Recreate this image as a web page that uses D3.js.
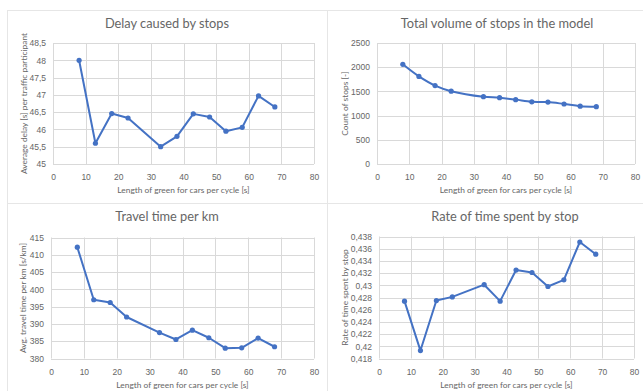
<!DOCTYPE html>
<html>
<head>
<meta charset="utf-8">
<script src="https://cdn.jsdelivr.net/npm/d3@7"></script>
<style>
  body { margin: 0; background: #fff; }
  svg { display: block; font-family: Lato, "Open Sans", sans-serif; }
  .tick text { fill: #666; font-size: 8.5px; }
  .grid line { stroke: #d9d9d9; stroke-width: 1; }
</style>
</head>
<body>
<svg width="643" height="391"></svg>
<script>
// green length per cycle [s], shared by all four charts
var greenLength = [8, 13, 18, 23, 33, 38, 43, 48, 53, 58, 63, 68];
var xTicks = [0, 10, 20, 30, 40, 50, 60, 70, 80];

var delayValues = [48.0, 45.6, 46.46, 46.33, 45.5, 45.8, 46.45, 46.36, 45.95, 46.06, 46.97, 46.65];
var delayTicks = [45, 45.5, 46, 46.5, 47, 47.5, 48, 48.5];

var stopsValues = [2060, 1810, 1620, 1505, 1390, 1370, 1330, 1285, 1280, 1240, 1195, 1185];
var stopsTicks = [0, 500, 1000, 1500, 2000, 2500];

var travelValues = [412.2, 397.0, 396.2, 392.0, 387.5, 385.5, 388.2, 386.0, 383.0, 383.1, 385.9, 383.4];
var travelTicks = [380, 385, 390, 395, 400, 405, 410, 415];

var rateValues = [0.4274, 0.4193, 0.4275, 0.4281, 0.4301, 0.4274, 0.4325, 0.4321, 0.4298, 0.4309, 0.4371, 0.4351];
var rateTicks = [0.418, 0.42, 0.422, 0.424, 0.426, 0.428, 0.43, 0.432, 0.434, 0.436, 0.438];

var fmt = d3.formatLocale({ decimal: ',', thousands: '', grouping: [3], currency: ['', ''] }).format('.6~g');

var svg = d3.select('svg');

var panels = [
	{ box: [7, 10, 320, 193], plot: [53, 43, 314, 164], title: 'Delay caused by stops',
		yTitle: 'Average delay [s] per traffic participant', yTitleX: 24,
		values: delayValues, ticks: delayTicks, smooth: false },
	{ box: [327, 10, 340, 193], plot: [377, 43, 635, 164], title: 'Total volume of stops in the model',
		yTitle: 'Count of stops [-]', yTitleX: 345,
		values: stopsValues, ticks: stopsTicks, smooth: true },
	{ box: [7, 203, 320, 200], plot: [51, 237.5, 314, 358.5], title: 'Travel time per km',
		yTitle: 'Avg. travel time per km [s/km]', yTitleX: 23,
		values: travelValues, ticks: travelTicks, smooth: false },
	{ box: [327, 203, 356, 200], plot: [379, 236.5, 634, 358.5], title: 'Rate of time spent by stop',
		yTitle: 'Rate of time spent by stop', yTitleX: 345,
		values: rateValues, ticks: rateTicks, smooth: false }
];

panels.forEach(function (p) {
	var b = p.box, pl = p.plot;
	var g = svg.append('g');

	g.append('rect')
		.attr('x', b[0] + 0.5).attr('y', b[1] + 0.5)
		.attr('width', b[2]).attr('height', b[3])
		.attr('fill', '#fff').attr('stroke', '#e6e6e6');

	var x = d3.scaleLinear().domain([0, 80]).range([pl[0], pl[2]]);
	var y = d3.scaleLinear().domain(d3.extent(p.ticks)).range([pl[3], pl[1]]);

	// gridlines
	g.append('g').attr('class', 'grid')
		.selectAll('line.h').data(p.ticks).enter().append('line')
		.attr('x1', pl[0]).attr('x2', pl[2])
		.attr('y1', function (d) { return Math.round(y(d)) + 0.5; })
		.attr('y2', function (d) { return Math.round(y(d)) + 0.5; });
	g.append('g').attr('class', 'grid')
		.selectAll('line.v').data(xTicks).enter().append('line')
		.attr('y1', pl[1]).attr('y2', pl[3])
		.attr('x1', function (d) { return Math.round(x(d)) + 0.5; })
		.attr('x2', function (d) { return Math.round(x(d)) + 0.5; });

	// axes (labels only, Excel style)
	var xAxis = g.append('g')
		.attr('transform', 'translate(0,' + pl[3] + ')')
		.call(d3.axisBottom(x).tickValues(xTicks).tickSize(0).tickPadding(10).tickFormat(fmt));
	xAxis.select('.domain').remove();

	var yAxis = g.append('g')
		.attr('transform', 'translate(' + pl[0] + ',0)')
		.call(d3.axisLeft(y).tickValues(p.ticks).tickSize(0).tickPadding(7).tickFormat(fmt));
	yAxis.select('.domain').remove();

	// titles
	g.append('text')
		.attr('x', b[0] + b[2] / 2).attr('y', b[1] + 18)
		.attr('text-anchor', 'middle')
		.attr('fill', '#666').attr('font-size', 12.8)
		.text(p.title);

	g.append('text')
		.attr('x', (pl[0] + pl[2]) / 2).attr('y', pl[3] + 29)
		.attr('text-anchor', 'middle')
		.attr('fill', '#666').attr('font-size', 8.4)
		.text('Length of green for cars per cycle [s]');

	g.append('text')
		.attr('transform', 'translate(' + p.yTitleX + ',' + (pl[1] + pl[3]) / 2 + ') rotate(-90)')
		.attr('text-anchor', 'middle')
		.attr('dy', '0.35em')
		.attr('fill', '#666').attr('font-size', 8.4)
		.text(p.yTitle);

	// series
	var line = d3.line()
		.x(function (d, i) { return x(greenLength[i]); })
		.y(function (d) { return y(d); })
		.curve(p.smooth ? d3.curveCatmullRom.alpha(0.5) : d3.curveLinear);

	g.append('path')
		.datum(p.values)
		.attr('fill', 'none')
		.attr('stroke', '#4472C4')
		.attr('stroke-width', 2)
		.attr('stroke-linejoin', 'round')
		.attr('d', line);

	g.selectAll('circle').data(p.values).enter().append('circle')
		.attr('cx', function (d, i) { return x(greenLength[i]); })
		.attr('cy', function (d) { return y(d); })
		.attr('r', 2.6)
		.attr('fill', '#4472C4');
});
</script>
</body>
</html>
